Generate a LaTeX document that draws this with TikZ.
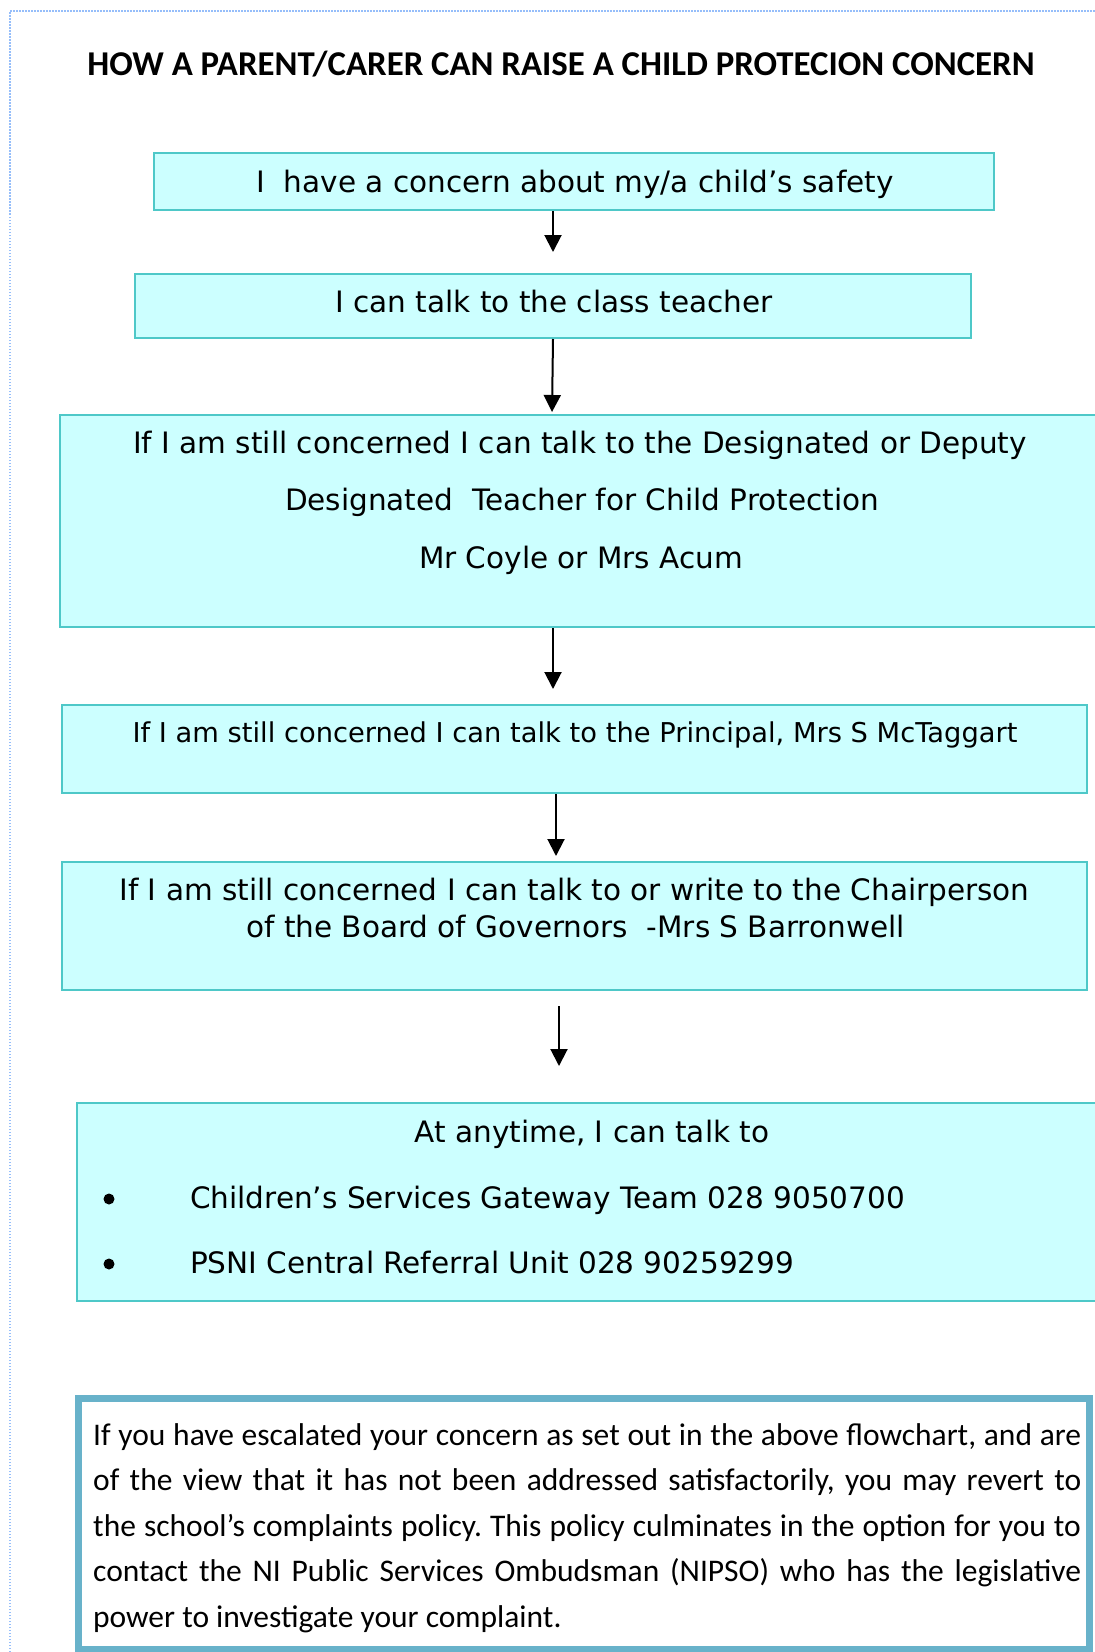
\documentclass[tikz,border=0pt]{standalone}
\usepackage{fontspec}
\setmainfont{Carlito}
\newfontfamily\handfont{DejaVu Sans}
\usetikzlibrary{arrows.meta,positioning}
\definecolor{boxfill}{RGB}{204,255,255}
\definecolor{boxline}{RGB}{78,200,200}
\definecolor{noteline}{RGB}{104,178,202}
\definecolor{pageline}{RGB}{150,190,250}
\frenchspacing

\begin{document}
\begin{tikzpicture}[x=1pt, y=-1pt, >={Triangle[width=17pt,length=17pt]},
  flowbox/.style={draw=boxline, fill=boxfill, line width=2pt, inner sep=0pt},
  flowtxt/.style={font=\handfont\fontsize{29.5}{34}\selectfont, anchor=base, inner sep=0pt},
  smalltxt/.style={flowtxt, font=\handfont\fontsize{27.3}{31}\selectfont},
  notetxt/.style={font=\fontsize{31.5}{36}\selectfont, anchor=base west, inner sep=0pt},
  arr/.style={->, line width=2pt}]
  \useasboundingbox (0,0) rectangle (1095,1652);

  %% Page frame (dotted)
  \draw[pageline, line width=1.5pt, dash pattern=on 1.5pt off 1.5pt]
    (10,1652) -- (10,11) -- (1095,11);

  %% Title
  \node[font=\bfseries\fontsize{34.8}{40}\selectfont, anchor=base, inner sep=0pt]
    (title) at (561,75) {HOW A PARENT/CARER CAN RAISE A CHILD PROTECION CONCERN};

  %% ── Flowchart boxes
  \node[flowbox, minimum width=840pt,  minimum height=57pt]  (concern)   at (574,181.5) {};
  \node[flowbox, minimum width=836pt,  minimum height=64pt]  (teacher)   at (553,306)   {};
  \node[flowbox, minimum width=1042pt, minimum height=212pt] (designated) at (581,521)  {};
  \node[flowbox, minimum width=1025pt, minimum height=88pt]  (principal) at (574.5,749) {};
  \node[flowbox, minimum width=1025pt, minimum height=128pt] (chair)     at (574.5,926) {};
  \node[flowbox, minimum width=1030pt, minimum height=198pt] (anytime)   at (592,1202)  {};

  %% Box texts
  \node[flowtxt] (concernT) at (575,192) {I\ \ have a concern about my/a child’s safety};
  \node[flowtxt] (teacherT) at (554,312) {I can talk to the class teacher};
  \node[flowtxt] (desigA) at (580,453) {If I am still concerned I can talk to the Designated or Deputy};
  \node[flowtxt] (desigB) at (582,510) {Designated\ \ Teacher for Child Protection};
  \node[flowtxt] (desigC) at (581,568) {Mr Coyle or Mrs Acum};
  \node[smalltxt] (principalT) at (575,742) {If I am still concerned I can talk to the Principal, Mrs S McTaggart};
  \node[flowtxt] (chairA) at (574.5,900) {If I am still concerned I can talk to or write to the Chairperson};
  \node[flowtxt] (chairB) at (575.5,937) {of the Board of Governors\ \ -Mrs S Barronwell};
  \node[flowtxt] (anytimeT) at (592,1142) {At anytime, I can talk to};
  \node[flowtxt, anchor=base west] (gateway) at (190,1208) {Children’s Services Gateway Team 028 9050700};
  \node[flowtxt, anchor=base west] (psni) at (190,1273) {PSNI Central Referral Unit 028 90259299};
  \node[circle, fill=black, minimum size=11pt, inner sep=0pt] (dotA) at (109,1199) {};
  \node[circle, fill=black, minimum size=11pt, inner sep=0pt] (dotB) at (109,1264) {};

  %% Arrows
  \draw[arr, shorten >=21pt] (concern.south -| 553,0) -- (teacher.north -| 553,0);
  \draw[arr, shorten >=2pt] (teacher.south -| 553,0) -- (designated.north -| 552,0);
  \draw[arr, shorten >=15pt] (designated.south -| 553,0) -- (principal.north -| 553,0);
  \draw[arr, shorten >=5pt] (principal.south -| 556,0) -- (chair.north -| 556,0);
  \draw[arr, shorten <=15pt, shorten >=36pt] (chair.south -| 559,0) -- (anytime.north -| 559,0);

  %% ── Note box at the foot
  \node[draw=noteline, fill=white, line width=7pt, inner sep=0pt,
        minimum width=1011pt, minimum height=251.5pt] (note) at (584,1524) {};
  \foreach \i/\ln in {1/{If you have escalated your concern as set out in the above flowchart, and are},
                      2/{of the view that it has not been addressed satisfactorily, you may revert to},
                      3/{the school’s complaints policy. This policy culminates in the option for you to},
                      4/{contact the NI Public Services Ombudsman (NIPSO) who has the legislative}}{
    \node[notetxt] (noteL\i) at (93,1399.5+45.5*\i) {\makebox[988pt][s]{\ln}};
  }
  \node[notetxt] (noteL5) at (93,1627) {power to investigate your complaint.};
\end{tikzpicture}
\end{document}
